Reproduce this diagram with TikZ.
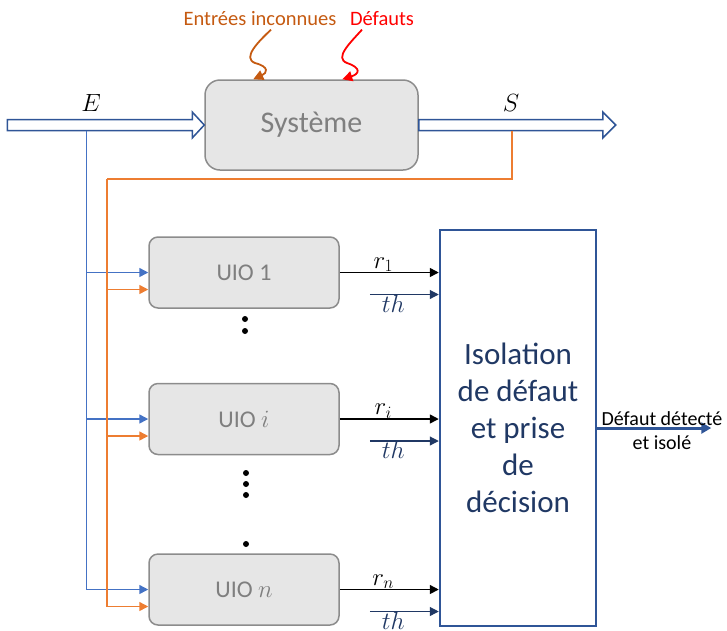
\documentclass[tikz,border=0pt]{standalone}
\usepackage{fontspec}
\setmainfont{Carlito}
\usetikzlibrary{arrows.meta,calc}
\definecolor{boxgray}{RGB}{230,230,230}
\definecolor{edgegray}{RGB}{140,140,140}
\definecolor{txtgray}{RGB}{127,127,127}
\definecolor{darkblue}{RGB}{47,85,151}
\definecolor{navy}{RGB}{32,56,100}
\definecolor{lineblue}{RGB}{68,114,196}
\definecolor{lineorange}{RGB}{237,125,49}
\definecolor{brownorange}{RGB}{197,90,17}
\begin{document}
\begin{tikzpicture}[x=1pt, y=-1pt,
  sysbox/.style={rectangle, rounded corners=15pt, draw=edgegray, line width=1.5pt, fill=boxgray, text=txtgray, minimum width=213pt, minimum height=90pt, font=\fontsize{30}{36}\selectfont},
  uiobox/.style={rectangle, rounded corners=9pt, draw=edgegray, line width=1.5pt, fill=boxgray, text=txtgray, minimum width=190pt, minimum height=71pt, font=\fontsize{24}{29}\selectfont},
  decbox/.style={rectangle, draw=darkblue, line width=2.5pt, text=navy, align=center, minimum width=156pt, minimum height=396pt, font=\fontsize{31}{37}\selectfont},
  bigarrow/.style={draw=darkblue, line width=1.5pt, fill=white, line join=miter},
  eline/.style={draw=lineblue, line width=1.5pt, -{Triangle[length=9pt,width=9pt]}},
  oline/.style={draw=lineorange, line width=1.5pt, -{Triangle[length=9pt,width=9pt]}},
  rarrow/.style={draw=black, line width=1.5pt, -{Triangle[length=9pt,width=9pt]}},
  tharrow/.style={draw=navy, line width=1.2pt, -{Triangle[length=9pt,width=9pt]}},
  mathlab/.style={font=\fontsize{26}{31}\selectfont},
  thlab/.style={text=navy, font=\fontsize{26}{31}\selectfont}
]
\useasboundingbox (0,0) rectangle (727,630);

\draw (311.5,125) node (sys) [sysbox] {Système};

\draw [bigarrow] (sys.west) -- +(-12,-13) -- +(-12,-5.5) -- +(-197,-5.5) -- +(-197,5.5) -- +(-12,5.5) -- +(-12,13) -- cycle;
\draw [bigarrow] (sys.east) -- +(0,-5.5) -- +(184,-5.5) -- +(184,-13) -- +(197,0) -- +(184,13) -- +(184,5.5) -- +(0,5.5) -- cycle;

\draw (91,103) node (elab) [font=\fontsize{32}{38}\selectfont] {$E$};
\draw (511,103) node (slab) [font=\fontsize{32}{38}\selectfont] {$S$};

\draw (260,19) node (ein) [text=brownorange, font=\fontsize{20.5}{24}\selectfont] {Entrées inconnues};
\draw (382,19) node (dft) [text=red, font=\fontsize{20.5}{24}\selectfont] {Défauts};

\path (sys.north west) -- +(49,0) coordinate(uin);
\path (sys.north west) -- +(138,0) coordinate(udf);

\draw [brownorange, line width=1.8pt, -{Triangle[length=10pt,width=10pt]}] (ein.south -| 271,0) .. controls (258,42) and (242,58) .. (255,63) .. controls (270,67) and (267,73) .. (uin);
\draw [red, line width=1.8pt, -{Triangle[length=10pt,width=10pt]}] (dft.south -| 362,0) .. controls (350,43) and (334,58) .. (347,63) .. controls (362,68) and (359,74) .. (udf);

\draw (244,272.5) node (uio1) [uiobox] {UIO 1};
\draw (244,419) node (uioi) [uiobox] {UIO $i$};
\draw (244,589.5) node (uion) [uiobox] {UIO $n$};

\draw (518,428) node (dec) [decbox] {Isolation\\de défaut\\et prise\\de\\décision};

\path (sys.west) -- +(-118,5.5) coordinate(etap);
\path (sys.east) -- +(93,5.5) coordinate(stap);
\path (stap |- 0,179) -- +(-405,0) coordinate(ocorner);

\foreach \u in {uio1,uioi,uion} {
  \draw [eline] (etap) |- (\u.west);
  \draw [lineorange, line width=1.5pt] (stap) |- (ocorner);
  \draw [oline] (ocorner) |- ([yshift=-17pt]\u.west);
}

\draw [rarrow] (uio1.east) -- coordinate(a1) (uio1.east -| dec.west);
\draw (a1) node (r1lab) [above, mathlab, yshift=-3pt, xshift=-6pt] {$r_1$};
\draw [rarrow] (uioi.east) -- coordinate(ai) (uioi.east -| dec.west);
\draw (ai) node (rilab) [above, mathlab, yshift=-3pt, xshift=-6pt] {$r_i$};
\draw [rarrow] (uion.east) -- coordinate(an) (uion.east -| dec.west);
\draw (an) node (rnlab) [above, mathlab, yshift=-3pt, xshift=-6pt] {$r_n$};

\foreach \u/\t in {uio1/th1,uioi/thi,uion/thn} {
  \path ([yshift=-22pt]\u.east) -- +(30,0) coordinate(\t);
  \draw [tharrow] (\t) -- coordinate(b\t) (\t -| dec.west);
  \draw (b\t) node (lab\t) [below, thlab, xshift=-11pt, yshift=3pt] {$th$};
}

\foreach \yy in {319,331} \fill (245,\yy) circle (3pt);
\foreach \yy in {473,484,495,544} \fill (246,\yy) circle (3pt);

\draw [darkblue, line width=3pt, -{Triangle[length=10pt,width=11pt]}] (dec.east) -- ++(114,0) coordinate(dout);
\draw (662,431) node (dlab) [align=center, font=\fontsize{20}{24}\selectfont] {Défaut détecté\\et isolé};

\end{tikzpicture}
\end{document}
